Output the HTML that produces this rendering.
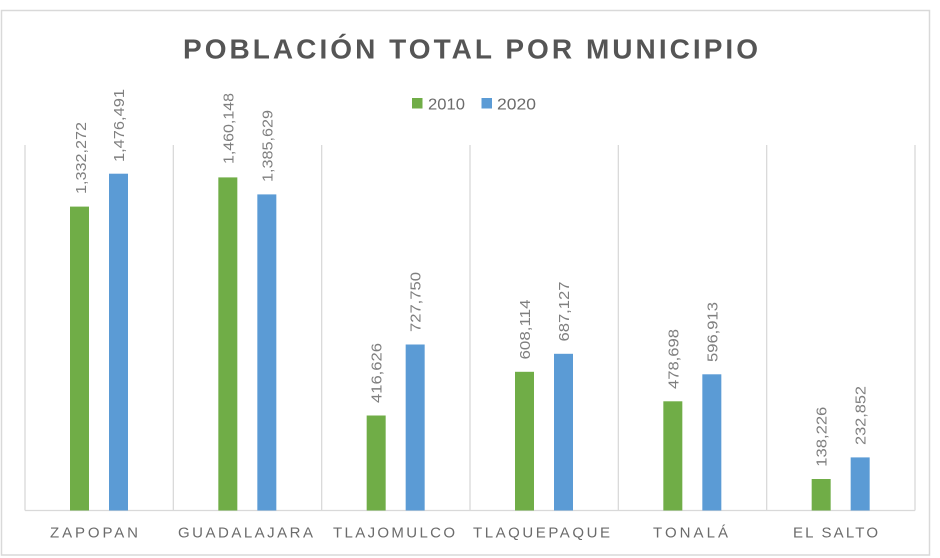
<!DOCTYPE html>
<html>
<head>
<meta charset="utf-8">
<style>
  html, body { margin: 0; padding: 0; background: #ffffff; }
  body { width: 940px; height: 558px; overflow: hidden; }
  svg { display: block; }
  text { font-family: "Liberation Sans", "DejaVu Sans", sans-serif; }
</style>
</head>
<body>
<svg width="940" height="558" viewBox="0 0 940 558" xmlns="http://www.w3.org/2000/svg">
  <rect x="0" y="0" width="940" height="558" fill="#ffffff"/>
  <!-- outer chart border -->
  <rect x="1.5" y="10.5" width="928" height="544.5" fill="#ffffff" stroke="#d9d9d9" stroke-width="1.5"/>

  <!-- Title -->
  <text x="183" y="58.5" font-size="28" font-weight="bold" fill="#555555" textLength="575" lengthAdjust="spacing">POBLACIÓN TOTAL POR MUNICIPIO</text>

  <!-- Legend -->
  <rect x="412" y="98" width="10.5" height="10.5" fill="#70ad47"/>
  <text x="428" y="109.3" font-size="16" fill="#6b6b6b" textLength="37" lengthAdjust="spacingAndGlyphs">2010</text>
  <rect x="481.5" y="98" width="10.5" height="10.5" fill="#5b9bd5"/>
  <text x="497" y="109.3" font-size="16" fill="#6b6b6b" textLength="39" lengthAdjust="spacingAndGlyphs">2020</text>

  <!-- Gridlines (category separators) -->
  <g stroke="#d9d9d9" stroke-width="1.3">
    <line x1="25" y1="145" x2="25" y2="510.5"/>
    <line x1="173.33" y1="145" x2="173.33" y2="510.5"/>
    <line x1="321.67" y1="145" x2="321.67" y2="510.5"/>
    <line x1="470" y1="145" x2="470" y2="510.5"/>
    <line x1="618.33" y1="145" x2="618.33" y2="510.5"/>
    <line x1="766.67" y1="145" x2="766.67" y2="510.5"/>
    <line x1="915" y1="145" x2="915" y2="510.5"/>
    <line x1="25" y1="510.5" x2="915" y2="510.5"/>
  </g>

  <!-- Bars -->
  <g>
    <!-- Zapopan -->
    <rect x="70" y="206.6" width="19" height="303.9" fill="#70ad47"/>
    <rect x="109" y="173.7" width="19" height="336.8" fill="#5b9bd5"/>
    <!-- Guadalajara -->
    <rect x="218.33" y="177.4" width="19" height="333.1" fill="#70ad47"/>
    <rect x="257.33" y="194.4" width="19" height="316.1" fill="#5b9bd5"/>
    <!-- Tlajomulco -->
    <rect x="366.67" y="415.5" width="19" height="95" fill="#70ad47"/>
    <rect x="405.67" y="344.5" width="19" height="166" fill="#5b9bd5"/>
    <!-- Tlaquepaque -->
    <rect x="515" y="371.8" width="19" height="138.7" fill="#70ad47"/>
    <rect x="554" y="353.8" width="19" height="156.7" fill="#5b9bd5"/>
    <!-- Tonala -->
    <rect x="663.33" y="401.3" width="19" height="109.2" fill="#70ad47"/>
    <rect x="702.33" y="374.3" width="19" height="136.2" fill="#5b9bd5"/>
    <!-- El Salto -->
    <rect x="811.67" y="479" width="19" height="31.5" fill="#70ad47"/>
    <rect x="850.67" y="457.4" width="19" height="53.1" fill="#5b9bd5"/>
  </g>

  <!-- Data labels (rotated) -->
  <g font-size="15" fill="#7f7f7f">
    <text transform="translate(86,194) rotate(-90)" textLength="72" lengthAdjust="spacingAndGlyphs">1,332,272</text>
    <text transform="translate(124,162) rotate(-90)" textLength="73" lengthAdjust="spacingAndGlyphs">1,476,491</text>
    <text transform="translate(233.3,164) rotate(-90)" textLength="71" lengthAdjust="spacingAndGlyphs">1,460,148</text>
    <text transform="translate(272.3,182) rotate(-90)" textLength="72" lengthAdjust="spacingAndGlyphs">1,385,629</text>
    <text transform="translate(381.7,403) rotate(-90)" textLength="60" lengthAdjust="spacingAndGlyphs">416,626</text>
    <text transform="translate(420.7,332) rotate(-90)" textLength="60" lengthAdjust="spacingAndGlyphs">727,750</text>
    <text transform="translate(530,359.5) rotate(-90)" textLength="60" lengthAdjust="spacingAndGlyphs">608,114</text>
    <text transform="translate(569,341.5) rotate(-90)" textLength="60" lengthAdjust="spacingAndGlyphs">687,127</text>
    <text transform="translate(678.3,389) rotate(-90)" textLength="60" lengthAdjust="spacingAndGlyphs">478,698</text>
    <text transform="translate(717.3,362) rotate(-90)" textLength="60" lengthAdjust="spacingAndGlyphs">596,913</text>
    <text transform="translate(826.7,466.7) rotate(-90)" textLength="60" lengthAdjust="spacingAndGlyphs">138,226</text>
    <text transform="translate(865.7,445) rotate(-90)" textLength="59" lengthAdjust="spacingAndGlyphs">232,852</text>
  </g>

  <!-- Category labels -->
  <g font-size="15" fill="#6b6b6b">
    <text x="50" y="537.3" textLength="88" lengthAdjust="spacing">ZAPOPAN</text>
    <text x="178" y="537.3" textLength="135" lengthAdjust="spacing">GUADALAJARA</text>
    <text x="333" y="537.3" textLength="122" lengthAdjust="spacing">TLAJOMULCO</text>
    <text x="473" y="537.3" textLength="137" lengthAdjust="spacing">TLAQUEPAQUE</text>
    <text x="653" y="537.3" textLength="75" lengthAdjust="spacing">TONALÁ</text>
    <text x="793" y="537.3" textLength="85" lengthAdjust="spacing">EL SALTO</text>
  </g>
</svg>
</body>
</html>
